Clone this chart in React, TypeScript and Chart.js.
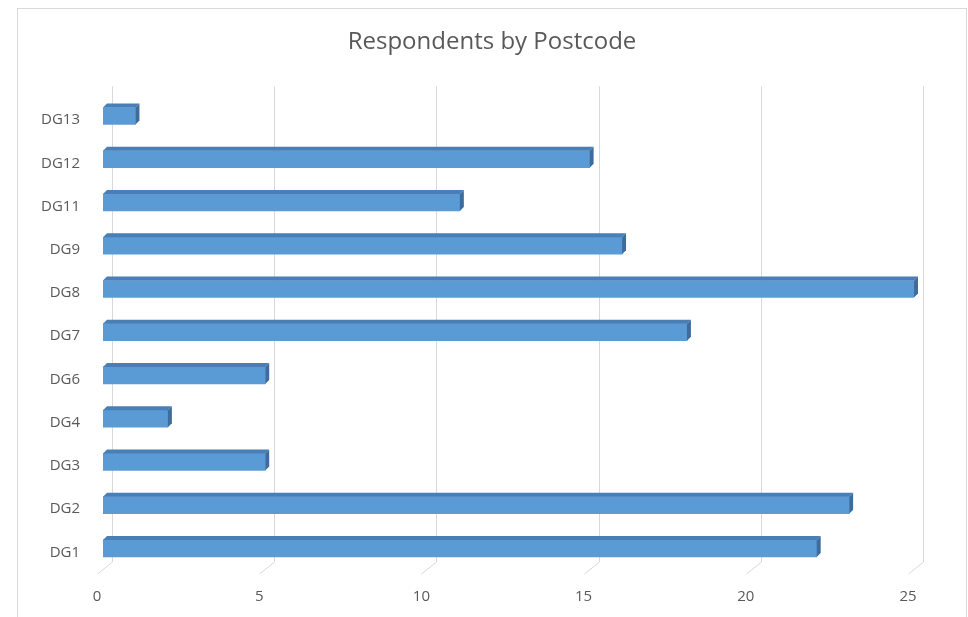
import { useEffect, useRef } from 'react';
import { Chart, registerables } from 'chart.js';

Chart.register(...registerables);

const categories = ['DG1', 'DG2', 'DG3', 'DG4', 'DG6', 'DG7', 'DG8', 'DG9', 'DG11', 'DG12', 'DG13'];
const respondents = [22, 23, 5, 2, 5, 18, 25, 16, 11, 15, 1];
const xTicks = [0, 5, 10, 15, 20, 25];
const chartTitle = 'Respondents by Postcode';

const FONT = '"Open Sans", Lato, sans-serif';
const TEXT = '#595959';

const frame3d = {
  id: 'frame3d',
  beforeDraw(chart: any) {
    const ctx = chart.ctx;
    ctx.save();
    ctx.fillStyle = '#ffffff';
    ctx.fillRect(0, 0, chart.width, chart.height);
    ctx.strokeStyle = '#d9d9d9';
    ctx.lineWidth = 1;
    ctx.strokeRect(17.5, 8.5, 949, 700);
    ctx.restore();
  },
  beforeDatasetsDraw(chart: any) {
    const ctx = chart.ctx;
    const xs = chart.scales.x;
    const area = chart.chartArea;
    const backTop = area.top - 8;
    const backBottom = area.bottom - 8;
    ctx.save();
    ctx.strokeStyle = '#d9d9d9';
    ctx.lineWidth = 1;
    for (const v of xTicks) {
      const px = Math.round(xs.getPixelForValue(v) + 9) + 0.5;
      ctx.beginPath();
      ctx.moveTo(px, backTop);
      ctx.lineTo(px, backBottom);
      ctx.lineTo(px - 15, backBottom + 12);
      ctx.stroke();
    }
    ctx.restore();
  },
  afterDatasetsDraw(chart: any) {
    const ctx = chart.ctx;
    const meta = chart.getDatasetMeta(0);
    const d = 4;
    ctx.save();
    for (const el of meta.data) {
      const { x, y, base, height } = el.getProps(['x', 'y', 'base', 'height'], true);
      const top = y - height / 2;
      const bottom = y + height / 2;
      ctx.fillStyle = '#4a7eb6';
      ctx.beginPath();
      ctx.moveTo(base, top);
      ctx.lineTo(base + d, top - d);
      ctx.lineTo(x + d, top - d);
      ctx.lineTo(x, top);
      ctx.closePath();
      ctx.fill();
      ctx.fillStyle = '#3e6c9c';
      ctx.beginPath();
      ctx.moveTo(x, top);
      ctx.lineTo(x + d, top - d);
      ctx.lineTo(x + d, bottom - d);
      ctx.lineTo(x, bottom);
      ctx.closePath();
      ctx.fill();
    }
    ctx.restore();
  },
};

export default function App() {
  const ref = useRef<HTMLCanvasElement | null>(null);

  useEffect(() => {
    if (!ref.current) return;
    const chart = new Chart(ref.current, {
      type: 'bar',
      data: {
        labels: categories,
        datasets: [
          {
            label: 'Respondents',
            data: respondents,
            backgroundColor: '#5b9bd5',
            borderWidth: 0,
            barThickness: 17,
          },
        ],
      },
      options: {
        indexAxis: 'y',
        animation: false,
        responsive: true,
        maintainAspectRatio: false,
        devicePixelRatio: 1,
        layout: { padding: { left: 16, right: 0, top: 0, bottom: 0 } },
        plugins: {
          legend: { display: false },
          tooltip: { enabled: false },
          title: {
            display: true,
            text: chartTitle,
            color: TEXT,
            font: { family: FONT, size: 24, weight: 'normal', lineHeight: 1.2 },
            padding: { top: 27.6, bottom: 38 },
          },
        },
        scales: {
          x: {
            type: 'linear',
            min: 0,
            max: 25,
            afterFit: (s: any) => {
              s.height = 47;
            },
            afterBuildTicks: (s: any) => {
              s.ticks = xTicks.map((v) => ({ value: v }));
            },
            grid: { display: false, drawTicks: false },
            border: { display: false },
            ticks: {
              color: TEXT,
              font: { family: FONT, size: 15 },
              padding: 18,
              labelOffset: -6,
              maxRotation: 0,
            },
          },
          y: {
            reverse: true,
            afterFit: (s: any) => {
              s.width = 87;
            },
            grid: { display: false, drawTicks: false },
            border: { display: false },
            ticks: {
              color: TEXT,
              font: { family: FONT, size: 15 },
              padding: 23,
              labelOffset: 4,
            },
          },
          spacer: {
            type: 'linear',
            position: 'right',
            display: true,
            afterFit: (s: any) => {
              s.width = 54;
            },
            grid: { display: false, drawTicks: false },
            border: { display: false },
            ticks: { display: false },
          },
        },
      },
      plugins: [frame3d],
    });
    return () => chart.destroy();
  }, []);

  return (
    <div style={{ position: 'fixed', left: 0, top: 0, width: 968, height: 617, background: '#fff' }}>
      <canvas ref={ref} />
    </div>
  );
}
